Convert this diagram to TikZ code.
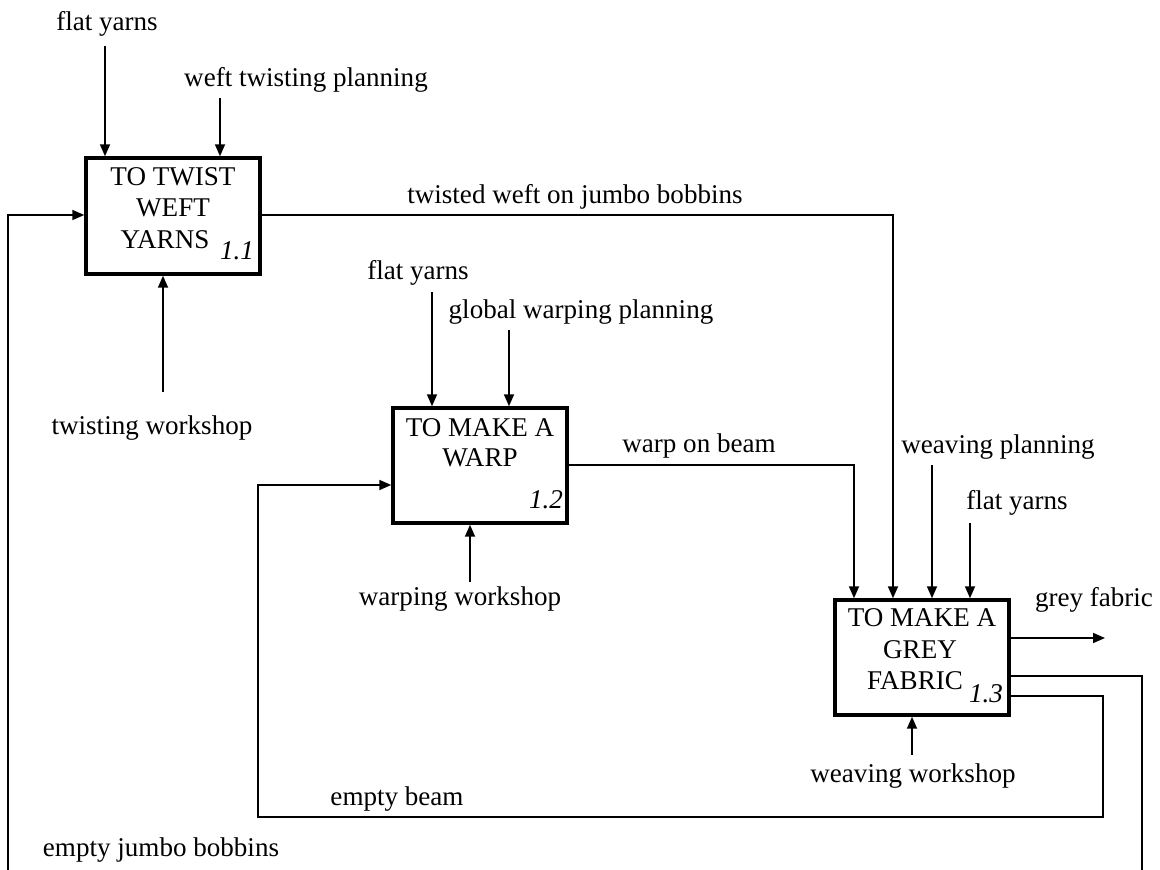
\documentclass[tikz,border=0pt]{standalone}
\usepackage{fontspec}
\setmainfont{Liberation Serif}
\usetikzlibrary{arrows.meta}
\begin{document}
\begin{tikzpicture}[x=0.75pt,y=-0.75pt,
  every node/.style={font=\fontsize{20.3}{24}\selectfont, inner sep=0pt},
  proc/.style={draw, line width=2.6pt, inner sep=0pt},
  arr/.style={line width=1.3pt, -{Triangle[length=9pt,width=7.5pt]}},
  ln/.style={line width=1.3pt},
  num/.style={font=\fontsize{20.3}{24}\selectfont\itshape}]
\useasboundingbox (0,0) rectangle (1160,870);

% boxes
\node[proc, minimum width=130.5pt, minimum height=87pt] (b1) at (173,216) {};
\node[proc, minimum width=130.5pt, minimum height=86.25pt] (b2) at (480,465.5) {};
\node[proc, minimum width=130.5pt, minimum height=86.25pt] (b3) at (922,657.5) {};

% box texts
\node (t1a) at (173,177) {TO TWIST};
\node (t1b) at (173,208) {WEFT};
\node (t1c) at (165,240) {YARNS};
\node[num] (n1) at (237,251) {1.1};
\node (t2a) at (480,428) {TO MAKE A};
\node (t2b) at (480,458) {WARP};
\node[num] (n2) at (546,500) {1.2};
\node (t3a) at (922,618) {TO MAKE A};
\node (t3b) at (920,650) {GREY};
\node (t3c) at (915,681) {FABRIC};
\node[num] (n3) at (986,694) {1.3};

% labels
\node (l1) at (107,24) {flat yarns};
\node (l2) at (306,80) {weft twisting planning};
\node (l3) at (575,197) {twisted weft on jumbo bobbins};
\node (l4) at (152,428) {twisting workshop};
\node (l5) at (418,273) {flat yarns};
\node (l6) at (581,312) {global warping planning};
\node (l7) at (699,446) {warp on beam};
\node (l8) at (460,599) {warping workshop};
\node (l9) at (998,447) {weaving planning};
\node (l10) at (1017,503) {flat yarns};
\node (l11) at (1094,600) {grey fabric};
\node (l12) at (913,776) {weaving workshop};
\node (l13) at (397,799) {empty beam};
\node (l14) at (161,850) {empty jumbo bobbins};

% start coordinates
\coordinate (s1) at (105,46);
\coordinate (s2) at (220,98);
\coordinate (s3) at (163,392);
\coordinate (s4) at (432,292);
\coordinate (s5) at (509,330);
\coordinate (s6) at (470,582);
\coordinate (s7) at (932,465);
\coordinate (s8) at (970,523);
\coordinate (s9) at (912,755);
\coordinate (e1) at (1105,638);
\coordinate (k1) at (1142,870);
\coordinate (k2) at (8,870);

% box 1.1
\draw[arr] (s1) -- (s1 |- b1.north);
\draw[arr] (s2) -- (s2 |- b1.north);
\draw[arr] (s3) -- (s3 |- b1.south);
\draw[arr] (k2) -- (8,215) -- (b1.west |- 0,215);
\draw[arr] (b1.east |- 0,215) -- (893,215) -- (893,0 |- b3.north);

% box 1.2
\draw[arr] (s4) -- (s4 |- b2.north);
\draw[arr] (s5) -- (s5 |- b2.north);
\draw[arr] (s6) -- (s6 |- b2.south);
\draw[arr] (b2.east |- 0,465) -- (854,465) -- (854,0 |- b3.north);

% box 1.3
\draw[arr] (s7) -- (s7 |- b3.north);
\draw[arr] (s8) -- (s8 |- b3.north);
\draw[arr] (s9) -- (s9 |- b3.south);
\draw[arr] (b3.east |- e1) -- (e1);
\draw[ln] (b3.east |- 0,676) -- (1142,676) -- (k1);
\draw[arr] (b3.east |- 0,696) -- (1103,696) -- (1103,817) -- (258,817) -- (258,485) -- (b2.west |- 0,485);
\end{tikzpicture}
\end{document}
